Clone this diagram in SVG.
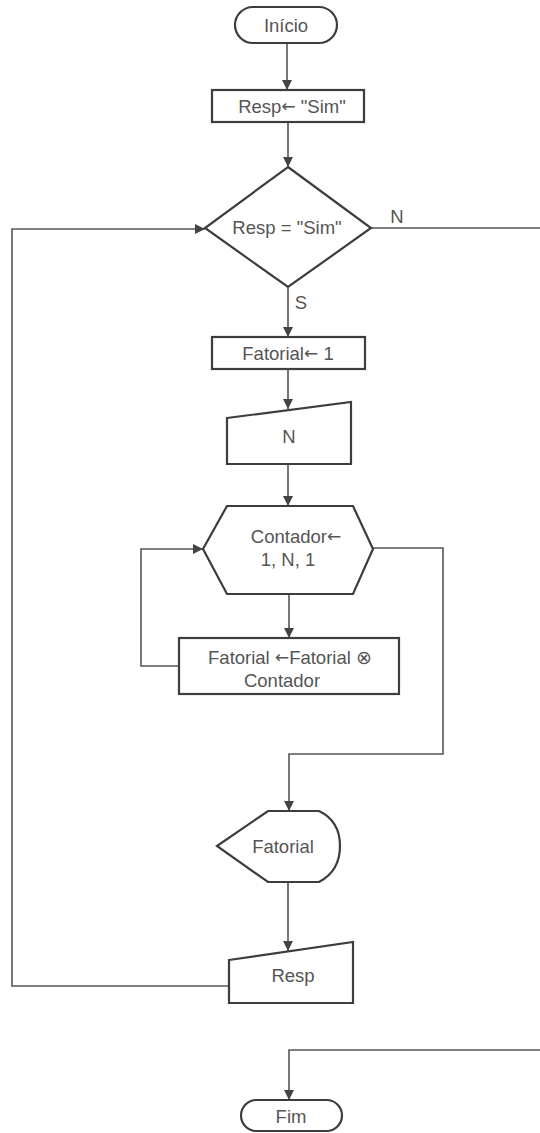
<svg xmlns="http://www.w3.org/2000/svg" width="540" height="1133" viewBox="0 0 540 1133">
<style>
.s{fill:#fff;stroke:#3d3d3d;stroke-width:2.2}
.c{fill:none;stroke:#555;stroke-width:1.6}
text{font-family:"Liberation Sans",Arial,sans-serif;font-size:18.5px;fill:#555;text-anchor:middle;dominant-baseline:central}
.ar{font-family:"DejaVu Sans",sans-serif;font-size:17px}
</style>
<defs>
<marker id="a" viewBox="0 0 10 10" refX="10" refY="5" markerWidth="10" markerHeight="10" markerUnits="userSpaceOnUse" orient="auto">
<path d="M0,0 L10,5 L0,10 Z" fill="#444"/>
</marker>
</defs>
<g id="connectors">
<line class="c" x1="287" y1="43" x2="287" y2="90" marker-end="url(#a)"/>
<line class="c" x1="288" y1="122" x2="288" y2="167" marker-end="url(#a)"/>
<line class="c" x1="288" y1="287" x2="288" y2="337" marker-end="url(#a)"/>
<line class="c" x1="288" y1="369" x2="288" y2="409" marker-end="url(#a)"/>
<line class="c" x1="288" y1="464" x2="288" y2="506" marker-end="url(#a)"/>
<line class="c" x1="289" y1="594" x2="289" y2="638" marker-end="url(#a)"/>
<polyline class="c" points="179,666 141,666 141,549 203,549" marker-end="url(#a)"/>
<polyline class="c" points="373,548 443,548 443,754 289,754 289,811" marker-end="url(#a)"/>
<line class="c" x1="288" y1="882" x2="288" y2="951" marker-end="url(#a)"/>
<polyline class="c" points="229,986 12,986 12,229 205,229" marker-end="url(#a)"/>
<line class="c" x1="371" y1="228" x2="540" y2="228"/>
<polyline class="c" points="540,1050 289,1050 289,1100" marker-end="url(#a)"/>
<text x="397" y="216">N</text>
<text x="301" y="302">S</text>
</g>
<g id="inicio">
<rect class="s" x="235" y="7" width="102" height="36" rx="18"/>
<text x="286" y="25">Início</text>
</g>
<g id="resp-sim">
<rect class="s" x="212" y="90" width="152" height="32"/>
<text x="292" y="106">Resp<tspan class="ar">←</tspan> "Sim"</text>
</g>
<g id="decisao">
<polygon class="s" points="288,167 371,228 288,287 205,228"/>
<text x="287" y="227">Resp = "Sim"</text>
</g>
<g id="fatorial-1">
<rect class="s" x="212" y="337" width="153" height="32"/>
<text x="288" y="353">Fatorial<tspan class="ar">←</tspan> 1</text>
</g>
<g id="ler-n">
<polygon class="s" points="227,418 351,402 351,464 227,464"/>
<text x="289" y="436">N</text>
</g>
<g id="para">
<polygon class="s" points="227,506 353,506 373,549 353,594 227,594 203,549"/>
<text x="296" y="536">Contador<tspan class="ar">←</tspan></text>
<text x="288" y="559">1, N, 1</text>
</g>
<g id="multiplica">
<rect class="s" x="179" y="638" width="220" height="56"/>
<text x="290" y="657">Fatorial <tspan class="ar">←</tspan>Fatorial ⊗</text>
<text x="282" y="680">Contador</text>
</g>
<g id="exibe-fatorial">
<path class="s" d="M217,846 L268,811 L319,811 Q340,821 340,846 Q340,871 319,882 L268,882 Z"/>
<text x="283" y="846">Fatorial</text>
</g>
<g id="ler-resp">
<polygon class="s" points="229,960 353,942 353,1003 229,1003"/>
<text x="293" y="975">Resp</text>
</g>
<g id="fim">
<rect class="s" x="241" y="1100" width="101" height="31" rx="15.5"/>
<text x="291" y="1116">Fim</text>
</g>
</svg>
